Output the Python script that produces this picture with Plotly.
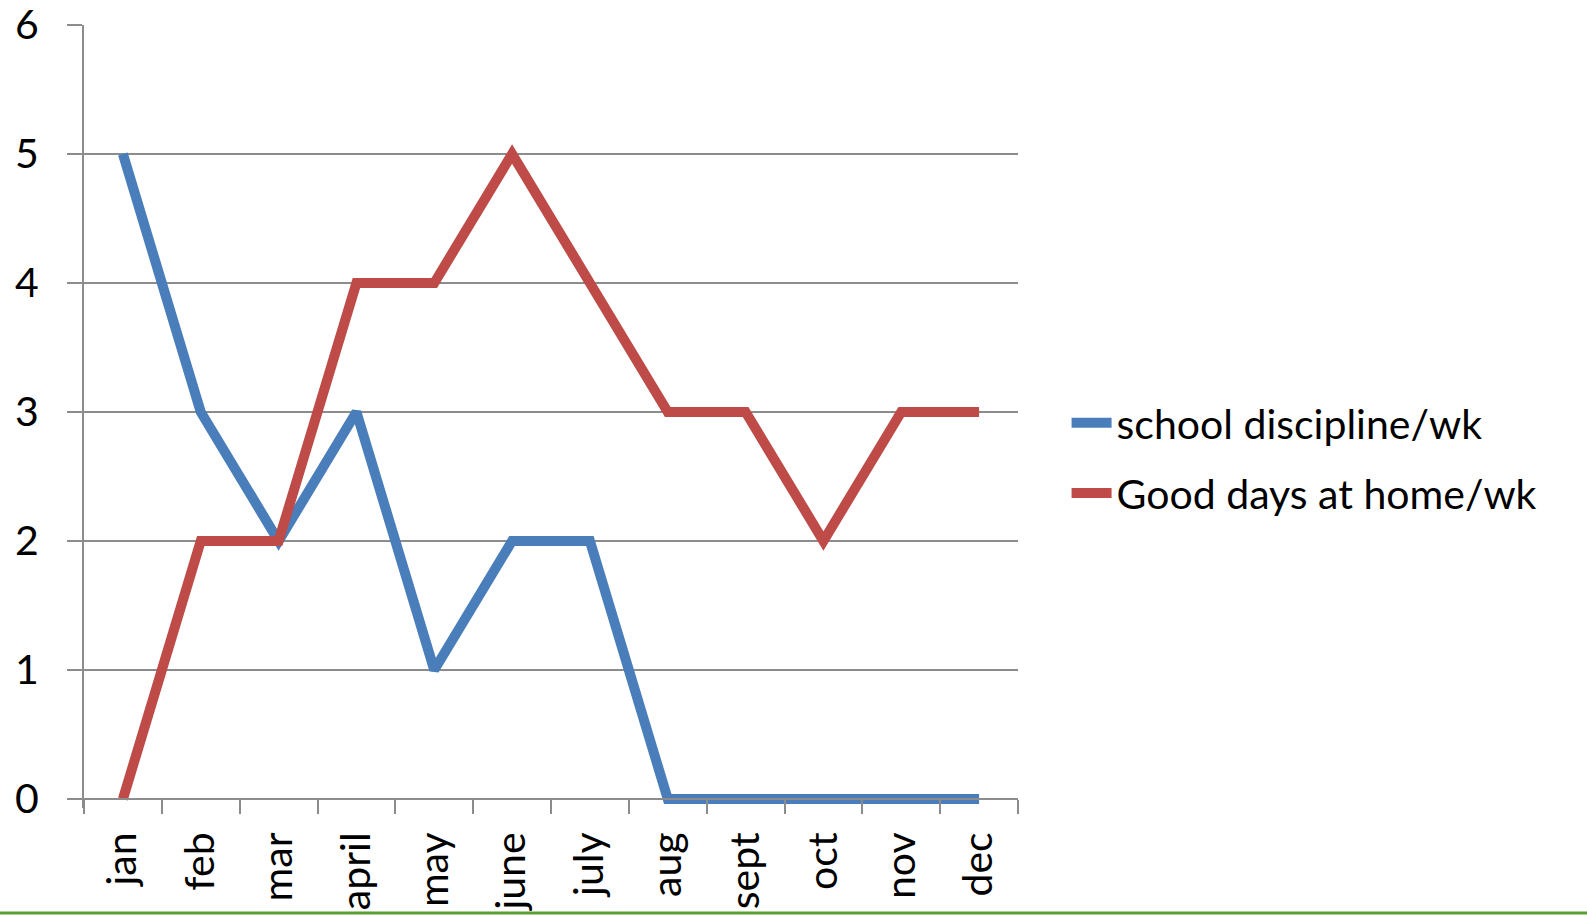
import plotly.graph_objects as go

months = ["jan", "feb", "mar", "april", "may", "june", "july", "aug", "sept", "oct", "nov", "dec"]
school_discipline = [5, 3, 2, 3, 1, 2, 2, 0, 0, 0, 0, 0]
good_days = [0, 2, 2, 4, 4, 5, 4, 3, 3, 2, 3, 3]
y_ticks = [0, 1, 2, 3, 4, 5, 6]

FONT = "Lato"
FS = 41
GRID = "#8c8c8c"
ylo = -0.07

fig = go.Figure()
fig.add_trace(go.Scatter(x=months, y=school_discipline, mode="lines", name="school discipline/wk",
                         line=dict(color="#4a7ebb", width=10), legendgroup="a"))
fig.add_trace(go.Scatter(x=months, y=good_days, mode="lines", name="Good days at home/wk",
                         line=dict(color="#be4b48", width=10), legendgroup="b"))

fig.update_layout(
    width=1587, height=915,
    margin=dict(l=84, r=569, t=25, b=107, autoexpand=False),
    paper_bgcolor="white", plot_bgcolor="white",
    font=dict(family=FONT, size=FS, color="black"),
    showlegend=True,
    legend=dict(x=1.052, y=0.447, xanchor="left", yanchor="middle",
                font=dict(family=FONT, size=FS, color="black"),
                tracegroupgap=14, bgcolor="rgba(0,0,0,0)", itemwidth=40),
    xaxis=dict(type="category", range=[-0.5, 11.5], anchor="free", position=-ylo / (6 - ylo),
               showline=True, linecolor=GRID, linewidth=2, showgrid=False, automargin=False,
               tickson="boundaries", ticks="outside", ticklen=14, tickwidth=2, tickcolor=GRID,
               tickangle=-90, ticklabelstandoff=16, tickfont=dict(size=FS),
               ticklabeloverflow="allow"),
    yaxis=dict(range=[ylo, 6], tickvals=y_ticks, showline=True, linecolor=GRID, linewidth=2,
               showgrid=True, gridcolor=GRID, gridwidth=2, zeroline=False, automargin=False,
               ticks="outside", ticklen=15, tickwidth=2, tickcolor=GRID,
               ticklabelstandoff=20, tickfont=dict(size=FS), ticklabeloverflow="allow"),
    shapes=[dict(type="line", xref="paper", yref="paper", x0=-84 / 934, x1=(1587 - 84) / 934,
                 y0=(808 - 913) / 783, y1=(808 - 913) / 783, line=dict(color="#5a9f32", width=3))],
)

fig.write_html("out.html", config={"displayModeBar": False},
               post_script="document.body.style.margin='0';")
